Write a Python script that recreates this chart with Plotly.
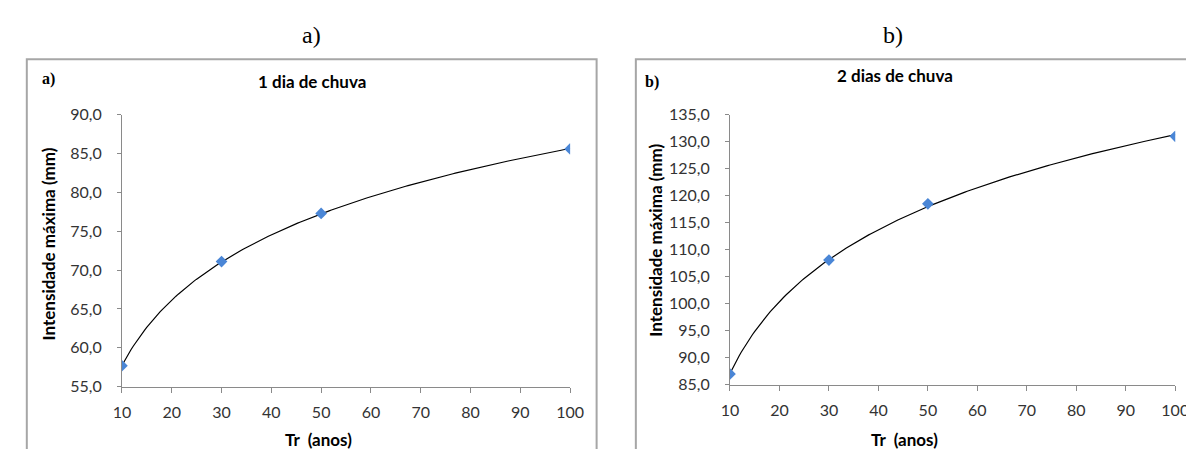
import numpy as np
import plotly.graph_objects as go

W, H = 1194, 449

# Data
tr_anos = [10, 30, 50, 100]
intens_1dia = [57.7, 71.1, 77.3, 85.6]
intens_2dias = [87.0, 108.1, 118.5, 131.0]

x_ticks = [10, 20, 30, 40, 50, 60, 70, 80, 90, 100]
y_ticks_1 = [55, 60, 65, 70, 75, 80, 85, 90]
y_ticks_2 = [85, 90, 95, 100, 105, 110, 115, 120, 125, 130, 135]

panel_labels = ["a)", "b)"]
chart_titles = ["1 dia de chuva", "2 dias de chuva"]
x_title = "Tr  (anos)"
y_title = "Intensidade máxima (mm)"


def px(x):
    return x / W


def py(y):
    return 1 - y / H


def log_trend(x, y):
    b, a = np.polyfit(np.log(x), y, 1)
    xs = np.linspace(min(x), max(x), 200)
    return xs, a + b * np.log(xs)


fig = go.Figure()

MARK = "#4a86d6"
AX = "#8a8a8a"
TICKFONT = dict(family="Lato", size=16, color="#333333")

for i, (yv, xa, ya) in enumerate([(intens_1dia, "x", "y"), (intens_2dias, "x2", "y2")]):
    xs, ys = log_trend(tr_anos, yv)
    fig.add_trace(go.Scatter(x=xs, y=ys, mode="lines", line=dict(color="black", width=1.2),
                             xaxis=xa, yaxis=ya, showlegend=False, hoverinfo="skip"))
    fig.add_trace(go.Scatter(x=tr_anos, y=yv, mode="markers",
                             marker=dict(symbol="diamond", size=9, color=MARK),
                             xaxis=xa, yaxis=ya, showlegend=False))

common_x = dict(range=[10, 100], tickvals=x_ticks, showline=True, linecolor=AX, linewidth=1,
                ticks="outside", ticklen=5, tickcolor=AX, showgrid=False, zeroline=False,
                tickfont=TICKFONT, ticklabelstandoff=6)
common_y = dict(showline=True, linecolor=AX, linewidth=1, ticks="outside", ticklen=4,
                tickcolor=AX, showgrid=False, zeroline=False, tickformat=".1f",
                tickfont=TICKFONT, ticklabelstandoff=12)

fig.update_layout(
    width=W, height=H, margin=dict(l=0, r=0, t=0, b=0),
    paper_bgcolor="white", plot_bgcolor="white", separators=", ",
    xaxis=dict(domain=[px(107), px(564)], anchor="y", **common_x),
    yaxis=dict(domain=[py(385), py(101)], anchor="x", range=[55, 90], tickvals=y_ticks_1, **common_y),
    xaxis2=dict(domain=[px(727), px(1181)], anchor="y2", **common_x),
    yaxis2=dict(domain=[py(383), py(101)], anchor="x2", range=[85, 135], tickvals=y_ticks_2, **common_y),
)

# Panel borders
fig.add_shape(type="rect", xref="paper", yref="paper", x0=px(10), x1=px(591), y0=py(460), y1=py(43),
              line=dict(color="#a6a6a6", width=2), layer="below")
fig.add_shape(type="rect", xref="paper", yref="paper", x0=px(631), x1=px(1210), y0=py(460), y1=py(43),
              line=dict(color="#a6a6a6", width=2), layer="below")

ann = []
# top labels a) b)
for lab, cx in zip(panel_labels, [300, 893]):
    ann.append(dict(text=lab, x=px(cx), y=py(18), xref="paper", yref="paper", showarrow=False,
                    font=dict(family="Liberation Serif", size=24, color="black"),
                    xanchor="center", yanchor="middle"))
# small labels in chart
for lab, cx, cy in zip(panel_labels, [32, 647], [64, 67]):
    ann.append(dict(text="<b>" + lab + "</b>", x=px(cx), y=py(cy), xref="paper", yref="paper",
                    showarrow=False, font=dict(family="Liberation Serif", size=16, color="black"),
                    xanchor="center", yanchor="middle"))
# chart titles
for t, cx, cy in zip(chart_titles, [301, 895], [66, 60]):
    ann.append(dict(text="<b>" + t + "</b>", x=px(cx), y=py(cy), xref="paper", yref="paper",
                    showarrow=False, font=dict(family="Lato", size=17, color="black"),
                    xanchor="center", yanchor="middle"))
# x titles
for cx in [307, 905]:
    ann.append(dict(text="<b>" + x_title + "</b>", x=px(cx), y=py(440), xref="paper", yref="paper",
                    showarrow=False, font=dict(family="Lato", size=17, color="black"),
                    xanchor="center", yanchor="middle"))
# y titles
for cx, cy in [(32, 236), (651, 232)]:
    ann.append(dict(text="<b>" + y_title + "</b>", x=px(cx), y=py(cy), xref="paper", yref="paper",
                    showarrow=False, textangle=-90, font=dict(family="Lato", size=17, color="black"),
                    xanchor="center", yanchor="middle"))
fig.update_layout(annotations=ann)

fig.write_html("out.html")
